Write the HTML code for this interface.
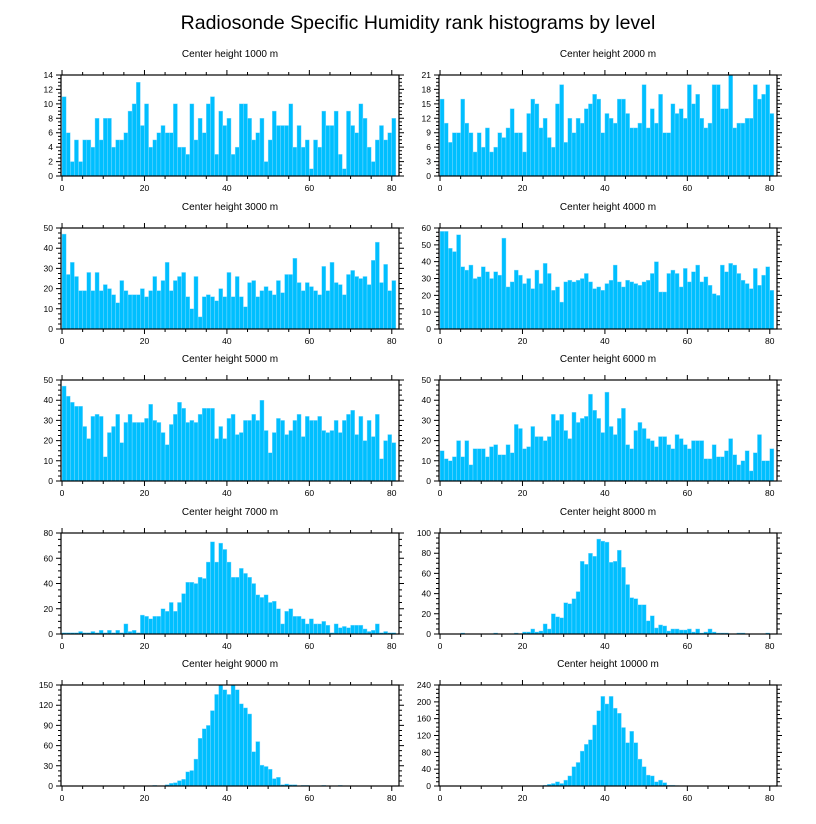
<!DOCTYPE html>
<html><head><meta charset="utf-8">
<style>
html,body{margin:0;padding:0;background:#fff;}
svg{display:block;font-family:"Liberation Sans",Arial,sans-serif;}
</style></head>
<body>
<svg id="chart" width="816" height="824" viewBox="0 0 816 824">
<text x="418" y="29" text-anchor="middle" font-size="19.5" fill="#000">Radiosonde Specific Humidity rank histograms by level</text>
</svg>
<script>
const titles = ["Center height 1000 m","Center height 2000 m","Center height 3000 m","Center height 4000 m","Center height 5000 m","Center height 6000 m","Center height 7000 m","Center height 8000 m","Center height 9000 m","Center height 10000 m"];
const yMax = [14,21,50,60,50,50,80,100,150,240];
const yStep = [2,3,10,10,10,10,20,20,30,40];
const xTicks = [0,20,40,60,80];
const h1000 = [11,6,2,5,2,5,5,4,8,5, 8,8,4,5,5,6,9,10,13,7, 10,4,5,6,7,6,6,10,4,4, 3,10,5,8,6,10,11,3,9,7, 8,3,4,10,10,8,5,6,8,2, 5,9,7,7,7,10,4,7,4,5, 1,5,4,9,7,7,9,3,1,9, 7,6,10,8,4,2,5,7,5,6, 8];
const h2000 = [16,11,7,9,9,16,11,9,5,9, 6,10,5,6,9,8,10,14,9,9, 5,13,16,15,10,12,8,6,15,19, 7,12,9,12,11,14,15,17,16,9, 13,12,11,16,16,13,10,10,11,19, 10,14,11,17,9,9,15,13,14,12, 19,15,17,12,10,11,19,19,14,14, 21,10,11,11,12,12,19,16,17,19, 13];
const h3000 = [47,27,33,26,19,19,28,19,28,19, 22,20,17,13,24,19,17,17,17,20, 16,19,26,19,24,33,19,24,26,28, 16,10,26,6,16,17,16,14,20,16, 28,16,26,16,11,23,24,16,19,21, 19,17,24,18,27,27,35,23,19,23, 21,19,17,31,19,33,23,22,17, 27,29,26,25,26,22,34,43,23,32, 19,24];
const h4000 = [58,58,48,46,56,37,35,38,30,31, 37,34,30,34,32,54,25,28,35,32, 27,30,24,35,27,39,33,23,25,16, 28,29,28,29,30,33,28,24,25,23, 27,29,38,28,25,29,28,27,26,28, 29,33,40,22,22,33,35,33,25,36, 28,34,38,28,31,26,21,20,38,34, 39,38,33,29,27,24,36,26,32,37, 23];
const h5000 = [47,42,39,37,37,27,21,32,33,32, 12,24,27,33,19,29,33,29,29,29, 31,38,30,29,24,18,28,33,39,36, 29,30,29,33,36,36,36,21,27,21, 31,33,23,24,30,30,33,30,40,25, 14,24,31,30,23,25,30,33,22,32, 30,30,32,25,24,25,30,24,30,33, 35,23,32,20,30,22,33,11,20,23, 19];
const h6000 = [15,11,10,12,20,12,20,8,16,16, 16,12,17,18,13,13,18,14,28,26, 16,17,27,22,22,20,22,33,30,33, 25,21,34,29,31,32,43,35,31,24, 44,27,23,31,36,18,16,25,29,26, 21,20,17,22,22,18,16,23,21,18, 16,20,20,20,11,11,18,12,12,15, 21,13,8,10,15,5,14,23,10,10, 16];
const h7000 = [1,1,1,1,2,1,1,2,1,3, 1,3,1,3,1,8,2,3,1,15, 14,12,14,14,20,18,25,18,25,32, 41,41,40,45,44,57,73,57,72,67, 57,45,45,52,48,45,40,31,29,31, 25,26,20,8,18,20,14,14,12,8, 12,8,8,10,7,1,8,5,6,5, 7,7,7,4,2,3,8,1,2,1, 1];
const h8000 = [0,0,0,0,0,1,0,0,0,0, 0,0,0,1,0,0,0,0,1,0, 2,2,5,2,3,10,5,20,17,16, 31,30,35,42,72,69,80,77,94,92, 91,71,72,83,66,49,36,35,29,29, 13,18,6,9,8,3,5,5,4,4, 5,2,5,1,2,5,2,1,1,1, 0,0,1,1,0,0,0,0,0,1, 0];
const h9000 = [0,0,0,0,0,0,0,0,0,0, 0,0,0,0,0,0,0,0,0,0, 0,0,1,0,0,2,4,5,8,10, 21,23,40,71,85,90,112,136,150,143, 136,150,143,122,116,107,51,66,31,29, 25,11,13,2,3,2,2,0,1,1, 0,0,0,1,0,0,0,1,0,0, 0,0,0,0,0,0,0,0,0,0, 0];
const h10000 = [0,0,0,0,0,0,0,0,0,0, 0,0,0,0,0,0,0,0,0,0, 0,0,0,0,0,2,4,6,10,6, 14,24,46,56,83,99,110,145,179,213, 195,213,185,173,139,103,130,103,64,46, 26,24,10,14,8,2,2,1,0,0, 0,0,0,0,0,0,0,0,0,0, 0,0,0,0,0,0,0,0,0,0, 0];
const series = [h1000,h2000,h3000,h4000,h5000,h6000,h7000,h8000,h9000,h10000];

const NS = "http://www.w3.org/2000/svg";
const svg = document.getElementById("chart");
function mk(tag, attrs, parent){
  const e = document.createElementNS(NS, tag);
  for (const k in attrs) e.setAttribute(k, attrs[k]);
  parent.appendChild(e);
  return e;
}
const colX = [61, 439], pw = 338, ph = 101;
const rowY = [75, 228, 380, 533, 685];
const xMin = -0.25, xMax = 81.75;

series.forEach((data, p) => {
  const L = colX[p % 2], T = rowY[Math.floor(p / 2)], B = T + ph, R = L + pw;
  const xs = v => L + (v - xMin) / (xMax - xMin) * pw;
  const ys = v => B - v / yMax[p] * ph;
  const g = mk("g", {}, svg);
  
  
  const t = mk("text", {x: (L + R) / 2, y: T - 18, "text-anchor": "middle", "font-size": "10", fill: "#000"}, g);
  t.textContent = titles[p];
  
  
  data.forEach((v, i) => {
    if (v <= 0) return;
    const r = mk("rect", {x: xs(i), y: ys(v), width: xs(i + 1) - xs(i), height: B - ys(v), fill: "#00bfff", stroke: "#8fdcff", "stroke-width": "0.4"}, g);
    
    
  });
  const frame = mk("rect", {x: L, y: T, width: pw, height: ph, fill: "none", stroke: "#000", "stroke-width": "1.2"}, g);
  
  
  let d = "";
  for (let v = 0; v <= 80; v += 5) {
    const x = xs(v), len = (v % 20 === 0) ? 5 : 3;
    d += `M${x},${B}v${len}M${x},${T}v${-len}`;
  }
  const nSub = 4;
  for (let k = 0; k <= yMax[p] / yStep[p] * nSub; k++) {
    const v = k * yStep[p] / nSub, y = ys(v), len = (k % nSub === 0) ? 5 : 3;
    d += `M${L},${y}h${-len}M${R},${y}h${len}`;
  }
  const tk = mk("path", {d: d, stroke: "#000", "stroke-width": "1", fill: "none"}, g);
  
  
  xTicks.forEach(v => {
    const lb = mk("text", {x: xs(v), y: B + 15, "text-anchor": "middle", "font-size": "8.5", fill: "#000"}, g);
    lb.textContent = v;
    
    
  });
  for (let v = 0; v <= yMax[p]; v += yStep[p]) {
    const lb = mk("text", {x: L - 8, y: ys(v) + 3, "text-anchor": "end", "font-size": "8.5", fill: "#000"}, g);
    lb.textContent = v;
    
    
  }
});
</script>
</body></html>
